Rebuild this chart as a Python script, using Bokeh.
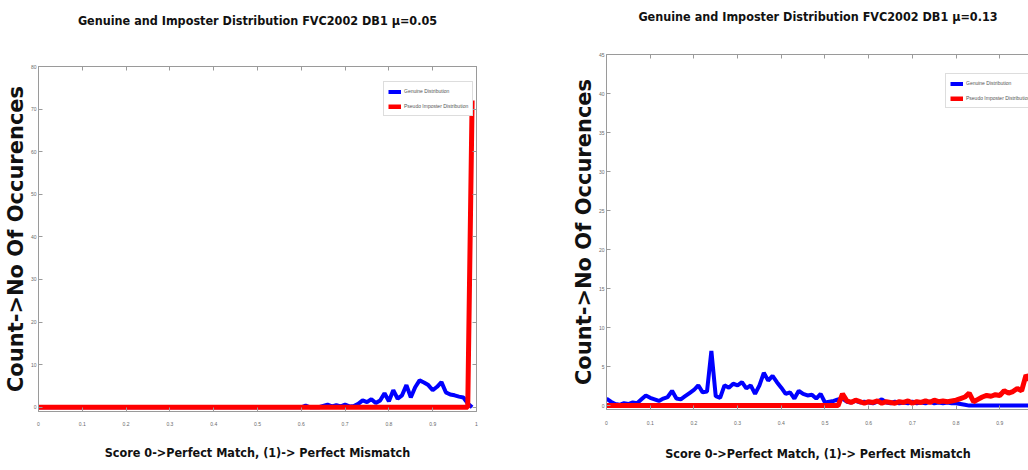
from bokeh.plotting import figure
from bokeh.models import Range1d, FixedTicker, LinearAxis, Legend, LegendItem
from bokeh.layouts import row, column
from bokeh.embed import file_html
from bokeh.resources import INLINE

# ---------------- data ----------------
x_ticks = [0.0, 0.1, 0.2, 0.3, 0.4, 0.5, 0.6, 0.7, 0.8, 0.9, 1.0]
x_tick_labels = ["0", "0.1", "0.2", "0.3", "0.4", "0.5", "0.6", "0.7", "0.8", "0.9", "1"]
y_ticks_left = [0, 10, 20, 30, 40, 50, 60, 70, 80]
y_ticks_right = [0, 5, 10, 15, 20, 25, 30, 35, 40, 45]

titles = ["Genuine and Imposter Distribution FVC2002 DB1 \u03bc=0.05",
          "Genuine and Imposter Distribution FVC2002 DB1 \u03bc=0.13"]
x_label = "Score 0->Perfect Match, (1)-> Perfect Mismatch"
y_label = "Count->No Of Occurences"
series_names = ["Genuine Distribution", "Pseudo Imposter Distribution"]

# left panel (mu = 0.05): bins 0.00 .. 0.99
score_left = [round(i * 0.01, 2) for i in range(100)]
genuine_left = [0.0] * 61 + [0.4, 0, 0, 0, 0.3, 0.6, 0.2, 0.5, 0.2, 0.6,
                             0.2, 0.3, 0.8, 1.6, 1.2, 1.9, 1.0, 1.6, 3.3, 1.4,
                             4.0, 2.0, 2.8, 5.2, 2.3, 4.7, 6.3, 5.8, 5.2, 4.0,
                             4.8, 5.9, 3.5, 3.0, 2.8, 2.5, 2.3, 0.9, 0.0]
imposter_left = [0.0] * 99 + [72.0]

# right panel (mu = 0.13): bins 0.00 .. 0.97 (picture is cut at the right)
score_right = [round(i * 0.01, 2) for i in range(98)]
genuine_right = [0.9, 0.5, 0.2, 0.1, 0.3, 0.2, 0.4, 0.3, 0.8, 1.3,
                 1.0, 0.8, 0.6, 0.9, 1.1, 1.9, 0.9, 0.8, 1.2, 1.6,
                 2.0, 2.6, 1.7, 1.8, 7.0, 1.2, 1.0, 2.6, 2.3, 2.8,
                 2.6, 3.0, 2.2, 2.6, 1.5, 2.6, 4.2, 3.2, 3.8, 3.0,
                 2.3, 1.5, 1.7, 0.9, 1.9, 1.5, 1.3, 1.4, 0.9, 1.5,
                 0.4, 0.5, 0.6, 0.8, 0.9, 0.5, 0.4, 0.6, 0.4, 0.5,
                 0.4, 0.3, 0.5, 0.8, 0.4, 0.3, 0.5, 0.3, 0.4, 0.3,
                 0.5, 0.3, 0.4, 0.3, 0.5, 0.3, 0.4, 0.3, 0.4, 0.3,
                 0.3, 0.2, 0.1, 0, 0, 0, 0, 0, 0, 0,
                 0, 0, 0, 0, 0, 0, 0, 0]
imposter_right = [0.0] * 54 + [1.5, 0.6, 0.4, 0.7, 0.5, 0.3,
                               0.5, 0.4, 0.6, 0.3, 0.5, 0.4, 0.3, 0.5, 0.4, 0.6,
                               0.3, 0.5, 0.4, 0.6, 0.4, 0.7, 0.5, 0.6, 0.5, 0.6,
                               0.7, 0.9, 1.1, 1.6, 0.5, 0.8, 1.1, 1.3, 1.2, 1.4,
                               1.3, 1.9, 1.6, 1.8, 2.2, 1.9, 3.9, 3.2]

AXIS_COL = "#9a9a9a"
TICK_TXT = "#6a6a6a"
NARROW = "DejaVu Sans Condensed"


def make_panel(title, xs, gen, imp, y_end, y_start, y_ticks, x_end,
               fw, fh, mb_left, mb_right, mb_top, mb_bottom, title_standoff,
               tick_standoff, xlab_standoff, legend_loc, right_box):
    p = figure(frame_width=fw, frame_height=fh, output_backend="svg",
               toolbar_location=None,
               x_range=Range1d(0, x_end), y_range=Range1d(y_start, y_end),
               min_border_left=mb_left, min_border_right=mb_right,
               min_border_top=mb_top, min_border_bottom=mb_bottom)
    p.grid.visible = False
    p.background_fill_color = "white"
    p.border_fill_color = "white"
    p.outline_line_color = AXIS_COL if right_box else None

    for ax in p.xaxis:
        ax.ticker = FixedTicker(ticks=x_ticks)
        ax.major_label_overrides = {t: l for t, l in zip(x_ticks, x_tick_labels)}
        ax.axis_label = x_label
        ax.axis_label_text_font = NARROW
        ax.axis_label_text_font_size = "12.5px"
        ax.axis_label_text_font_style = "bold"
        ax.axis_label_text_color = "#111111"
        ax.axis_label_standoff = xlab_standoff
        ax.major_label_standoff = tick_standoff
    for ax in p.yaxis:
        ax.ticker = FixedTicker(ticks=y_ticks)
        ax.axis_label = y_label
        ax.axis_label_text_font = "DejaVu Sans"
        ax.axis_label_text_font_size = "21px"
        ax.axis_label_text_font_style = "bold"
        ax.axis_label_text_color = "#111111"
        ax.axis_label_standoff = 0
        ax.major_label_standoff = 2
    for ax in p.xaxis + p.yaxis:
        ax.axis_line_color = AXIS_COL
        ax.major_tick_line_color = AXIS_COL
        ax.minor_tick_line_color = None
        ax.major_tick_in = 4
        ax.major_tick_out = 0
        ax.major_label_text_font = "Liberation Sans"
        ax.major_label_text_font_size = "5px"
        ax.major_label_text_color = TICK_TXT

    # top box edge with inward ticks; its axis label carries the chart title
    top_ax = LinearAxis(ticker=FixedTicker(ticks=x_ticks), axis_line_color=AXIS_COL,
                        major_tick_line_color=AXIS_COL, minor_tick_line_color=None,
                        major_tick_in=4, major_tick_out=0,
                        major_label_overrides={t: "" for t in x_ticks},
                        major_label_text_font_size="5px", major_label_standoff=0,
                        axis_label=title, axis_label_text_font=NARROW,
                        axis_label_text_font_size="12.5px",
                        axis_label_text_font_style="bold",
                        axis_label_text_color="#111111",
                        axis_label_standoff=title_standoff)
    p.add_layout(top_ax, "above")
    if right_box:
        r_ax = LinearAxis(ticker=FixedTicker(ticks=y_ticks), axis_line_color=AXIS_COL,
                          major_tick_line_color=AXIS_COL, minor_tick_line_color=None,
                          major_tick_in=4, major_tick_out=0,
                          major_label_overrides={t: "" for t in y_ticks},
                          major_label_text_font_size="5px", major_label_standoff=0)
        p.add_layout(r_ax, "right")

    g = p.line(xs, gen, line_color="#0000ff", line_width=4)
    r = p.line(xs, imp, line_color="#ff0000", line_width=5)

    legend = Legend(items=[LegendItem(label=series_names[0], renderers=[g]),
                           LegendItem(label=series_names[1], renderers=[r])],
                    location=legend_loc, orientation="vertical",
                    label_text_font="Liberation Sans", label_text_font_size="5px",
                    label_text_color="#555555", glyph_width=13, glyph_height=5,
                    label_height=10, label_standoff=3, spacing=5, padding=4,
                    margin=0, border_line_color="#bbbbbb", background_fill_alpha=1)
    p.add_layout(legend, "center")
    return p


left = make_panel(titles[0], score_left, genuine_left, imposter_left, 80, -1,
                  y_ticks_left, 1.0, 438, 345, 37, 92, 66, 59, 39,
                  10, 16, (345, 295), True)
right = make_panel(titles[1], score_right, genuine_right, imposter_right, 45, -0.5,
                   y_ticks_right, 0.968, 423, 355, 38, 0, 54, 61, 31,
                   11, 18, (339, 301), False)

layout = row(column(left), column(right))
open("out.html", "w").write(file_html(layout, INLINE))
